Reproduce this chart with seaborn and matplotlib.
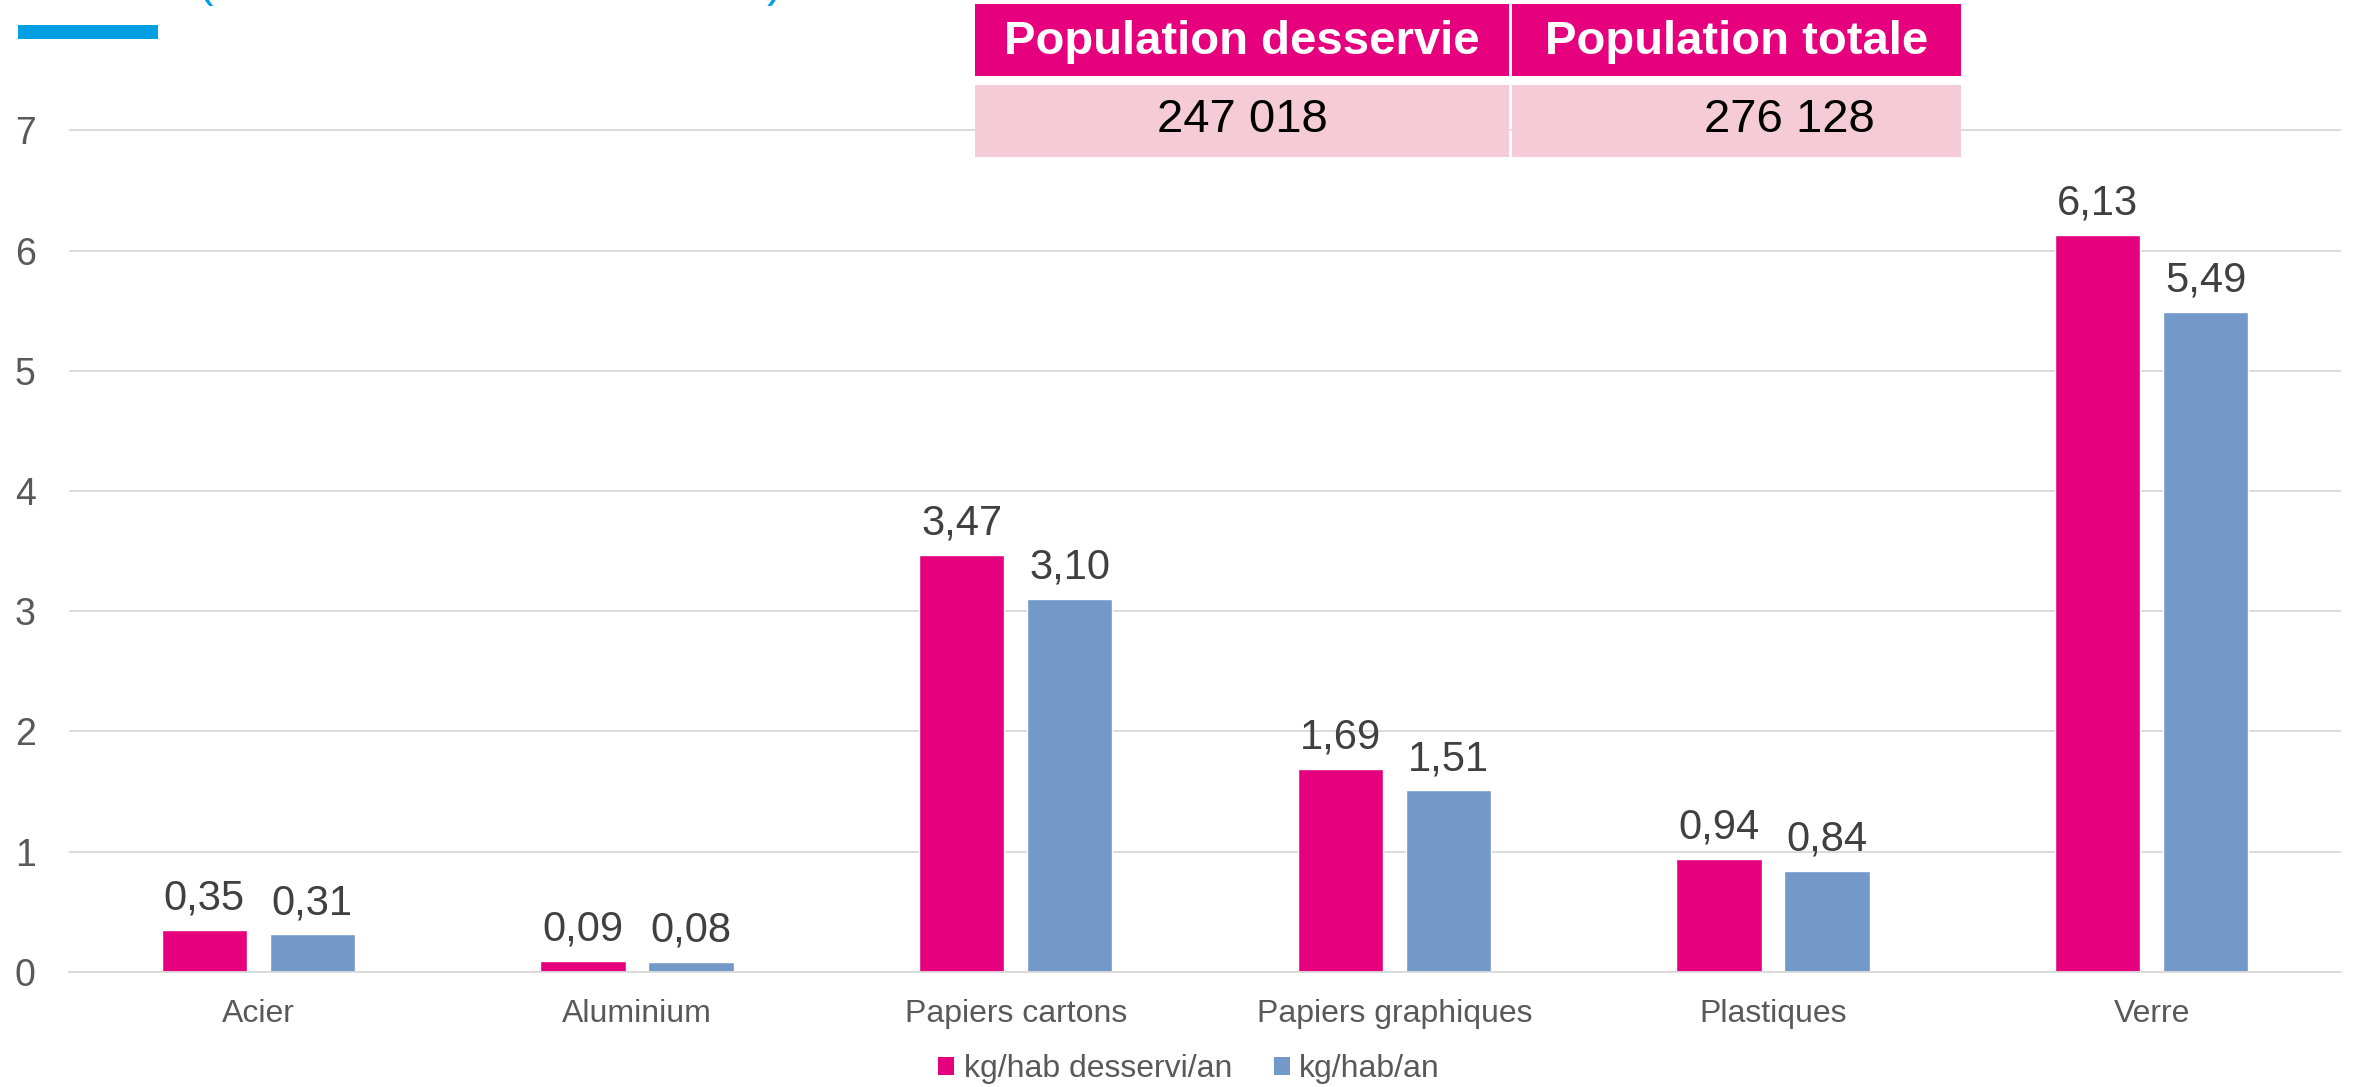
import matplotlib
matplotlib.use("Agg")
import matplotlib.pyplot as plt
from matplotlib.patches import Patch, Rectangle
import seaborn as sns
import pandas as pd

# ---- data ----
categories = ["Acier", "Aluminium", "Papiers cartons", "Papiers graphiques", "Plastiques", "Verre"]
series_names = ["kg/hab desservi/an", "kg/hab/an"]
kg_hab_desservi = [0.35, 0.09, 3.47, 1.69, 0.94, 6.13]
kg_hab = [0.31, 0.08, 3.10, 1.51, 0.84, 5.49]
table_headers = ["Population desservie", "Population totale"]
table_values = ["247 018", "276 128"]
y_ticks = [0, 1, 2, 3, 4, 5, 6, 7]

PINK = "#E6007E"
BLUE = "#7399C9"
LIGHT_PINK = "#F4CBD7"
CYAN = "#009FE3"
GRID = "#D9D9D9"

df = pd.DataFrame({
    "cat": categories * 2,
    "serie": [series_names[0]] * len(categories) + [series_names[1]] * len(categories),
    "val": kg_hab_desservi + kg_hab,
})

sns.set_theme(style="white")
plt.rcParams["font.family"] = ["Liberation Sans", "DejaVu Sans"]

W, H = 2354, 1087
fig = plt.figure(figsize=(W / 100, H / 100), dpi=100)
ax_bottom_px = 971.7
ax_top_px = 127.9
ax = fig.add_axes([69 / W, 1 - ax_bottom_px / H, (2341 - 69) / W, (ax_bottom_px - ax_top_px) / H])

sns.barplot(data=df, x="cat", y="val", hue="serie", order=categories,
            hue_order=series_names, palette=[PINK, BLUE], saturation=1,
            width=0.57, gap=0.21, legend=False, ax=ax)

for cont in ax.containers:
    labels = [f"{b.get_height():.2f}".replace(".", ",") for b in cont]
    ax.bar_label(cont, labels=labels, padding=8, fontsize=30, color="#404040")

ax.set_ylim(0, 7.02)
ax.set_xlim(-0.5, len(categories) - 0.5)
ax.set_yticks(y_ticks)
ax.set_yticklabels([str(t) for t in y_ticks])
ax.set_xlabel("")
ax.set_ylabel("")
ax.yaxis.grid(True, color=GRID, linewidth=1.3)
ax.set_axisbelow(True)
for s in ["top", "right", "left"]:
    ax.spines[s].set_visible(False)
ax.spines["bottom"].set_color(GRID)
ax.spines["bottom"].set_linewidth(1.3)
ax.tick_params(axis="y", length=0, pad=24, labelsize=27, labelcolor="#595959")
ax.tick_params(axis="x", length=0, pad=20, labelsize=23, labelcolor="#595959")

# legend
handles = [Patch(facecolor=PINK, edgecolor="none"), Patch(facecolor=BLUE, edgecolor="none")]
fig.legend(handles, series_names, loc="center", bbox_to_anchor=(1189 / W, 1 - 1069 / H),
           ncol=2, frameon=False, fontsize=23, handlelength=0.5, handleheight=0.5,
           handletextpad=0.3, columnspacing=1.3, labelcolor="#595959")

# top-left accent and cut-off title parentheses (cut off in the reference too)
fig.patches.append(Rectangle((18 / W, 1 - 39 / H), 140 / W, 14 / H,
                             transform=fig.transFigure, facecolor=CYAN, edgecolor="none"))
fig.text(197 / W, 1 + 4 / H, "(", color=CYAN, fontsize=34, ha="left", va="baseline")
fig.text(767 / W, 1 + 4 / H, ")", color=CYAN, fontsize=34, ha="left", va="baseline")

# population table
cells_x = [(975, 1509), (1512, 1961)]
value_centers = [1242, 1789]
for (x0, x1), head, val, vc in zip(cells_x, table_headers, table_values, value_centers):
    fig.patches.append(Rectangle((x0 / W, 1 - 76 / H), (x1 - x0) / W, 72 / H,
                                 transform=fig.transFigure, facecolor=PINK, edgecolor="none"))
    fig.patches.append(Rectangle((x0 / W, 1 - 157 / H), (x1 - x0) / W, 72 / H,
                                 transform=fig.transFigure, facecolor=LIGHT_PINK, edgecolor="none"))
    fig.text((x0 + x1) / 2 / W, 1 - 42 / H, head, color="white", fontsize=34,
             fontweight="bold", ha="center", va="center")
    fig.text(vc / W, 1 - 120 / H, val, color="black", fontsize=34, ha="center", va="center")

fig.savefig("out.png", dpi=100)
